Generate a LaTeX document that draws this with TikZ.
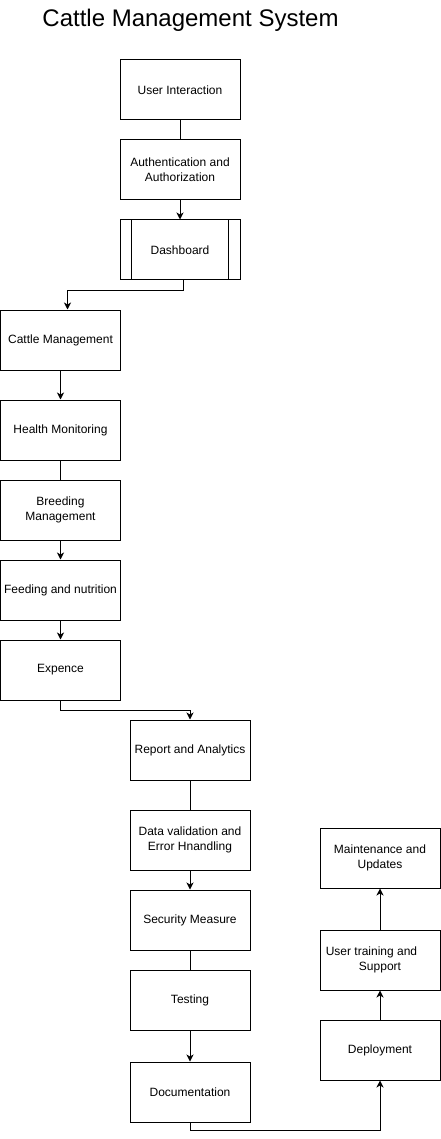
\documentclass[tikz,border=0pt]{standalone}
\usepackage{fontspec}
\setmainfont{Liberation Sans}
\usetikzlibrary{arrows.meta,calc}
\begin{document}
\begin{tikzpicture}[x=1pt,y=-1pt,
  box/.style={draw=black,fill=white,line width=1pt,minimum width=120pt,minimum height=60pt,
    inner sep=0pt,align=center,font=\fontsize{12pt}{15pt}\selectfont},
  link/.style={draw=black,line width=1pt},
  arr/.style={link,-{Stealth[length=7pt,width=7pt,inset=2pt]}}]
\useasboundingbox (0,0) rectangle (441,1139);
\node[font=\fontsize{24pt}{28pt}\selectfont] (title) at (190.5,20) {Cattle Management System};
\node[box] (ui) at (180,90) {User Interaction};
\node[box] (auth) at (180,170) {Authentication and\\Authorization};
\node[box] (dash) at (180,250) {Dashboard};
\draw[link] ([xshift=12pt]dash.north west) -- ([xshift=12pt]dash.south west);
\draw[link] ([xshift=-12pt]dash.north east) -- ([xshift=-12pt]dash.south east);
\node[box] (cm) at (60.5,340) {Cattle Management};
\node[box] (hm) at (60.5,430) {Health Monitoring};
\node[box] (bm) at (60.5,510) {Breeding\\Management};
\node[box] (fn) at (60.5,590) {Feeding and nutrition};
\node[box] (exp) at (60.5,670) {Expence};
\node[box] (rep) at (190,750) {Report and Analytics};
\node[box] (dv) at (190,840) {Data validation and\\Error Hnandling};
\node[box] (sec) at (190,920) {Security Measure};
\node[box] (test) at (190,1000) {Testing};
\node[box] (doc) at (190,1092) {Documentation};
\node[box] (dep) at (380,1050) {Deployment};
\node[box] (ut) at (380,960) {User training and\kern17pt\\Support};
\node[box] (mu) at (380,858) {Maintenance and\\Updates};
\draw[link] (ui) -- (auth);
\draw[arr] (auth) -- (dash);
\draw[arr] ([xshift=3pt]dash.south) -- ++(0,10) -| ([xshift=7pt]cm.north);
\draw[arr] (cm) -- (hm);
\draw[link] (hm) -- (bm);
\draw[arr] (bm) -- (fn);
\draw[arr] (fn) -- (exp);
\draw[arr] (exp.south) -- ++(0,10) -| (rep.north);
\draw[link] (rep) -- (dv);
\draw[arr] (dv) -- (sec);
\draw[link] (sec) -- (test);
\draw[arr] (test) -- (doc);
\draw[arr] (doc.south) -- ++(0,8) -| (dep.south);
\draw[arr] (dep) -- (ut);
\draw[arr] (ut) -- (mu);
\end{tikzpicture}
\end{document}
